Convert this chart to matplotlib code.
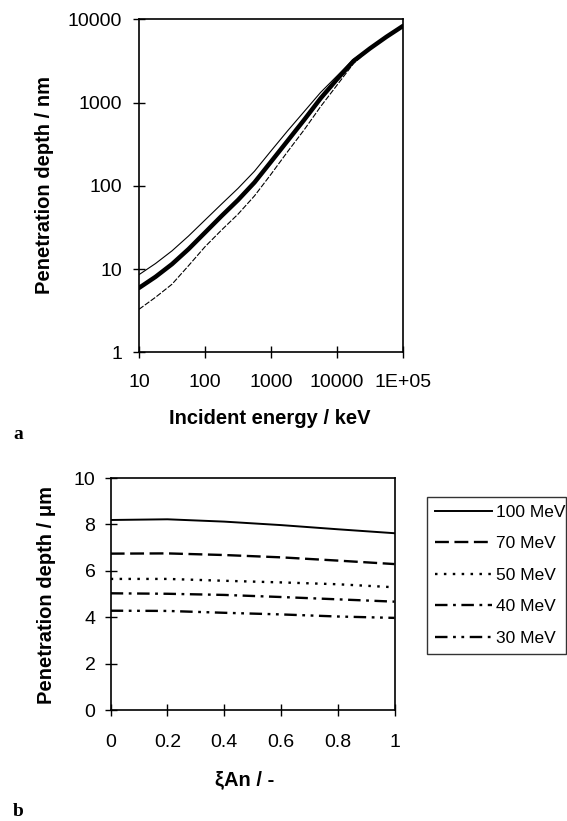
import matplotlib
matplotlib.use("Agg")
import matplotlib.pyplot as plt

# --- panel a: penetration depth vs incident energy (log-log) ---
energy_kev = [10, 17.8, 31.6, 56.2, 100, 178, 316, 562, 1000, 1780, 3160, 5620,
              10000, 17800, 31600, 56200, 100000]
depth_mid = [5.96, 8.1, 11.5, 17.4, 27.5, 43.5, 67.6, 110, 195, 347, 617, 1120,
             1905, 3160, 4470, 6170, 8320]
depth_high = [8.6, 11.7, 16.6, 25.0, 38.9, 60.5, 93.3, 150, 263, 457, 776, 1320,
              2090, 3310, 4570, 6240, 8320]
depth_low = [3.3, 4.6, 6.6, 11.0, 18.6, 29.5, 45.7, 75.9, 138, 257, 468, 891,
             1620, 2950, 4370, 6100, 8320]

energy_ticks = [10, 100, 1000, 10000, 100000]
energy_labels = ["10", "100", "1000", "10000", "1E+05"]
depth_ticks = [1, 10, 100, 1000, 10000]
depth_labels = ["1", "10", "100", "1000", "10000"]

# --- panel b: penetration depth vs xi_An for several energies ---
xi_an = [0, 0.2, 0.4, 0.6, 0.8, 1.0]
series_names = ["100 MeV", "70 MeV", "50 MeV", "40 MeV", "30 MeV"]
depth_100 = [8.19, 8.22, 8.12, 7.97, 7.79, 7.62]
depth_70 = [6.74, 6.75, 6.68, 6.58, 6.44, 6.29]
depth_50 = [5.65, 5.65, 5.57, 5.50, 5.42, 5.29]
depth_40 = [5.03, 5.01, 4.96, 4.87, 4.77, 4.67]
depth_30 = [4.28, 4.27, 4.19, 4.12, 4.03, 3.97]

plt.rcParams['font.family'] = ['Liberation Sans', 'DejaVu Sans']
plt.rcParams['lines.scale_dashes'] = False

W, H = 567, 821
fig = plt.figure(figsize=(W / 100, H / 100), dpi=100)

tick_fs = 14
label_fs = 14.5

# panel a
ax1 = fig.add_axes([139 / W, 1 - 352.5 / H, 264 / W, 333.2 / H])
ax1.plot(energy_kev, depth_high, color='black', lw=0.8)
ax1.plot(energy_kev, depth_low, color='black', lw=0.8, linestyle=(0, (4, 1.2)))
ax1.plot(energy_kev, depth_mid, color='black', lw=3.2, solid_capstyle='round')
ax1.set_xscale('log')
ax1.set_yscale('log')
ax1.set_xlim(10, 100000)
ax1.set_ylim(1, 10000)
ax1.set_xticks(energy_ticks)
ax1.set_xticklabels(energy_labels)
ax1.set_yticks(depth_ticks)
ax1.set_yticklabels(depth_labels)
ax1.minorticks_off()
ax1.tick_params(axis='x', direction='inout', length=8, width=1, pad=11.5,
                labelsize=tick_fs)
ax1.tick_params(axis='y', direction='inout', length=8, width=1, pad=8,
                labelsize=tick_fs)
for s in ax1.spines.values():
    s.set_linewidth(1.2)

fig.text(270 / W, 1 - 418 / H, "Incident energy / keV", ha='center', va='center',
         fontsize=label_fs, fontweight='bold')
fig.text(45 / W, 1 - 185 / H, "Penetration depth / nm", ha='center', va='center',
         rotation=90, fontsize=label_fs, fontweight='bold')
fig.text(13 / W, 1 - 434 / H, "a", ha='left', va='center', fontsize=14,
         fontweight='bold', family='Liberation Serif')

# panel b
ax2 = fig.add_axes([110.7 / W, 1 - 710 / H, 283.8 / W, 232 / H])
styles = ['-', (0, (10, 4)), (0, (1.8, 4.6)), (0, (9, 4, 2, 4)),
          (0, (9, 4, 2, 4, 2, 4))]
widths = [1.4, 1.7, 1.7, 1.7, 1.7]
all_series = [depth_100, depth_70, depth_50, depth_40, depth_30]
for name, vals, ls, lw in zip(series_names, all_series, styles, widths):
    ax2.plot(xi_an, vals, color='black', linestyle=ls, lw=lw, label=name)
ax2.set_xlim(0, 1)
ax2.set_ylim(0, 10)
ax2.set_xticks([0, 0.2, 0.4, 0.6, 0.8, 1.0])
ax2.set_xticklabels(["0", "0.2", "0.4", "0.6", "0.8", "1"])
ax2.set_yticks([0, 2, 4, 6, 8, 10])
ax2.tick_params(axis='x', direction='inout', length=8, width=1, pad=13.5,
                labelsize=tick_fs)
ax2.tick_params(axis='y', direction='inout', length=8, width=1, pad=7,
                labelsize=tick_fs)
for s in ax2.spines.values():
    s.set_linewidth(1.2)

fig.text(245 / W, 1 - 780 / H, "ξAn / -", ha='center', va='center',
         fontsize=label_fs, fontweight='bold')
fig.text(47 / W, 1 - 595 / H, "Penetration depth / μm", ha='center', va='center',
         rotation=90, fontsize=label_fs, fontweight='bold')
fig.text(13 / W, 1 - 811 / H, "b", ha='left', va='center', fontsize=14,
         fontweight='bold', family='Liberation Serif')

leg = fig.legend(loc='upper left', bbox_to_anchor=(427 / W, 1 - 497 / H, 139 / W, 0),
                 mode='expand', fontsize=12.5, handlelength=3.3, handletextpad=0.25,
                 labelspacing=0.94, borderpad=0.45, borderaxespad=0,
                 fancybox=False, frameon=True)
leg.get_frame().set_edgecolor('black')
leg.get_frame().set_linewidth(1.0)

fig.savefig("out.png", dpi=100)
